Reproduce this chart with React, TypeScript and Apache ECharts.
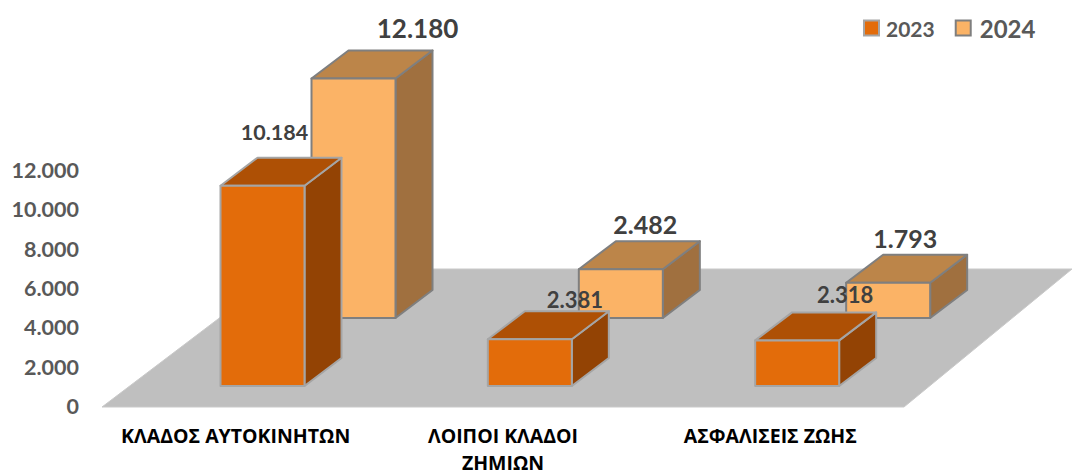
import React, { useEffect, useRef } from "react";
import * as echarts from "echarts";

const categories = ["ΚΛΑΔΟΣ ΑΥΤΟΚΙΝΗΤΩΝ", "ΛΟΙΠΟΙ ΚΛΑΔΟΙ\nΖΗΜΙΩΝ", "ΑΣΦΑΛΙΣΕΙΣ ΖΩΗΣ"];
const values2023 = [10184, 2381, 2318];
const values2024 = [12180, 2482, 1793];
const labels2023 = ["10.184", "2.381", "2.318"];
const labels2024 = ["12.180", "2.482", "1.793"];
const yTickMax = 12000;
const yTickStep = 2000;

const FONT = "Lato, 'Noto Sans', sans-serif";
const CAT_FONT = "'Open Sans', 'Noto Sans', sans-serif";
const BAR_W = 84;
const DEPTH_X = 37;
const DEPTH_Y = 28;

const fmt = (v: number) => (v === 0 ? "0" : String(v).replace(/\B(?=(\d{3})+$)/g, "."));

function barSeries(cfg: any) {
  return {
    type: "custom",
    name: cfg.name,
    silent: true,
    itemStyle: { color: cfg.front },
    encode: { x: 0, y: 1 },
    data: cfg.values.map((v: number, i: number) => [i, v]),
    z: cfg.z,
    renderItem: (_p: any, api: any) => {
      const cat = api.value(0);
      const val = api.value(1);
      const zero = api.coord([cat, 0]);
      const topPt = api.coord([cat, val]);
      const band = api.size([1, 0])[0];
      const x0 = zero[0] - band / 2 + cfg.offsetX;
      const x1 = x0 + BAR_W;
      const h = zero[1] - topPt[1];
      const yb = zero[1] - cfg.lift;
      const yt = yb - h;
      const stroke = { stroke: cfg.stroke, lineWidth: 2, lineJoin: "round" };
      const lab = cfg.labelPos[cat];
      return {
        type: "group",
        children: [
          { type: "polygon", shape: { points: [[x1, yt], [x1 + DEPTH_X, yt - DEPTH_Y], [x1 + DEPTH_X, yb - DEPTH_Y], [x1, yb]] }, style: { fill: cfg.side, ...stroke } },
          { type: "polygon", shape: { points: [[x0, yt], [x0 + DEPTH_X, yt - DEPTH_Y], [x1 + DEPTH_X, yt - DEPTH_Y], [x1, yt]] }, style: { fill: cfg.top, ...stroke } },
          { type: "rect", shape: { x: x0, y: yt, width: BAR_W, height: h }, style: { fill: cfg.front, ...stroke } },
          {
            type: "text",
            x: x0 + BAR_W / 2 + lab[0],
            y: yt + lab[1],
            z2: 50,
            style: {
              text: cfg.labels[cat],
              fill: "#404040",
              font: `bold ${lab[2]}px ${FONT}`,
              align: "center",
              verticalAlign: "middle",
            },
          },
        ],
      };
    },
  };
}

export default function App() {
  const ref = useRef<HTMLDivElement>(null);
  useEffect(() => {
    const chart = echarts.init(ref.current!, null, { renderer: "svg" });
    chart.setOption({
      animation: false,
      backgroundColor: "#ffffff",
      grid: { left: 102, top: 170, width: 802, height: 236, containLabel: false, outerBoundsMode: "none" },
      legend: {
        left: 858,
        top: 11,
        itemWidth: 15,
        itemHeight: 15,
        itemGap: 20,
        selectedMode: false,
        data: [
          { name: "2023", icon: "rect", itemStyle: { color: "#E36C0A", borderColor: "#A5A5A5", borderWidth: 2 }, textStyle: { fontFamily: FONT, fontWeight: "bold", fontSize: 21, color: "#595959", padding: [0, 0, 0, 2] } },
          { name: "2024", icon: "rect", itemStyle: { color: "#FBB366", borderColor: "#7F7F7F", borderWidth: 2 }, textStyle: { fontFamily: FONT, fontWeight: "bold", fontSize: 24, color: "#595959", padding: [0, 0, 0, 4] } },
        ],
      },
      xAxis: {
        type: "category",
        data: categories,
        axisLine: { show: false },
        axisTick: { show: false },
        splitLine: { show: false },
        axisLabel: {
          interval: 0,
          margin: 16.5,
          color: "#000000",
          fontFamily: CAT_FONT,
          fontWeight: "bold",
          fontSize: 19.5,
          lineHeight: 26.6,
          hideOverlap: false,
        },
      },
      yAxis: {
        type: "value",
        min: 0,
        max: yTickMax,
        interval: yTickStep,
        axisLine: { show: false },
        axisTick: { show: false },
        splitLine: { show: false },
        axisLabel: {
          margin: 23,
          color: "#595959",
          fontFamily: FONT,
          fontWeight: "bold",
          fontSize: 21.5,
          formatter: (v: number) => fmt(v),
        },
      },
      series: [
        {
          type: "custom",
          name: "floor",
          silent: true,
          z: 1,
          data: [[0, 0]],
          encode: { x: 0, y: 1 },
          renderItem: (p: any) => {
            const c = p.coordSys;
            const yf = c.y + c.height + 1;
            const back = yf - 138;
            return {
              type: "polygon",
              shape: { points: [[c.x, yf], [c.x + c.width, yf], [c.x + c.width + 168, back], [c.x + 182, back]] },
              style: { fill: "#BFBFBF", stroke: "#C9C9C9", lineWidth: 1 },
            };
          },
        },
        barSeries({
          name: "2024",
          values: values2024,
          labels: labels2024,
          front: "#FBB366",
          top: "#BC8549",
          side: "#A0703F",
          stroke: "#7F7F7F",
          offsetX: 209.5,
          lift: 88,
          z: 2,
          labelPos: [[64, -50, 26], [24.5, -45, 25], [17, -45, 25]],
        }),
        barSeries({
          name: "2023",
          values: values2023,
          labels: labels2023,
          front: "#E36C0A",
          top: "#AE5005",
          side: "#934304",
          stroke: "#A5A5A5",
          offsetX: 118.5,
          lift: 20,
          z: 3,
          labelPos: [[12, -54, 21.5], [45, -40, 22], [48, -46, 22]],
        }),
      ],
    });
    return () => chart.dispose();
  }, []);
  return <div ref={ref} style={{ position: "absolute", left: 0, top: 0, width: 1073, height: 476 }} />;
}
